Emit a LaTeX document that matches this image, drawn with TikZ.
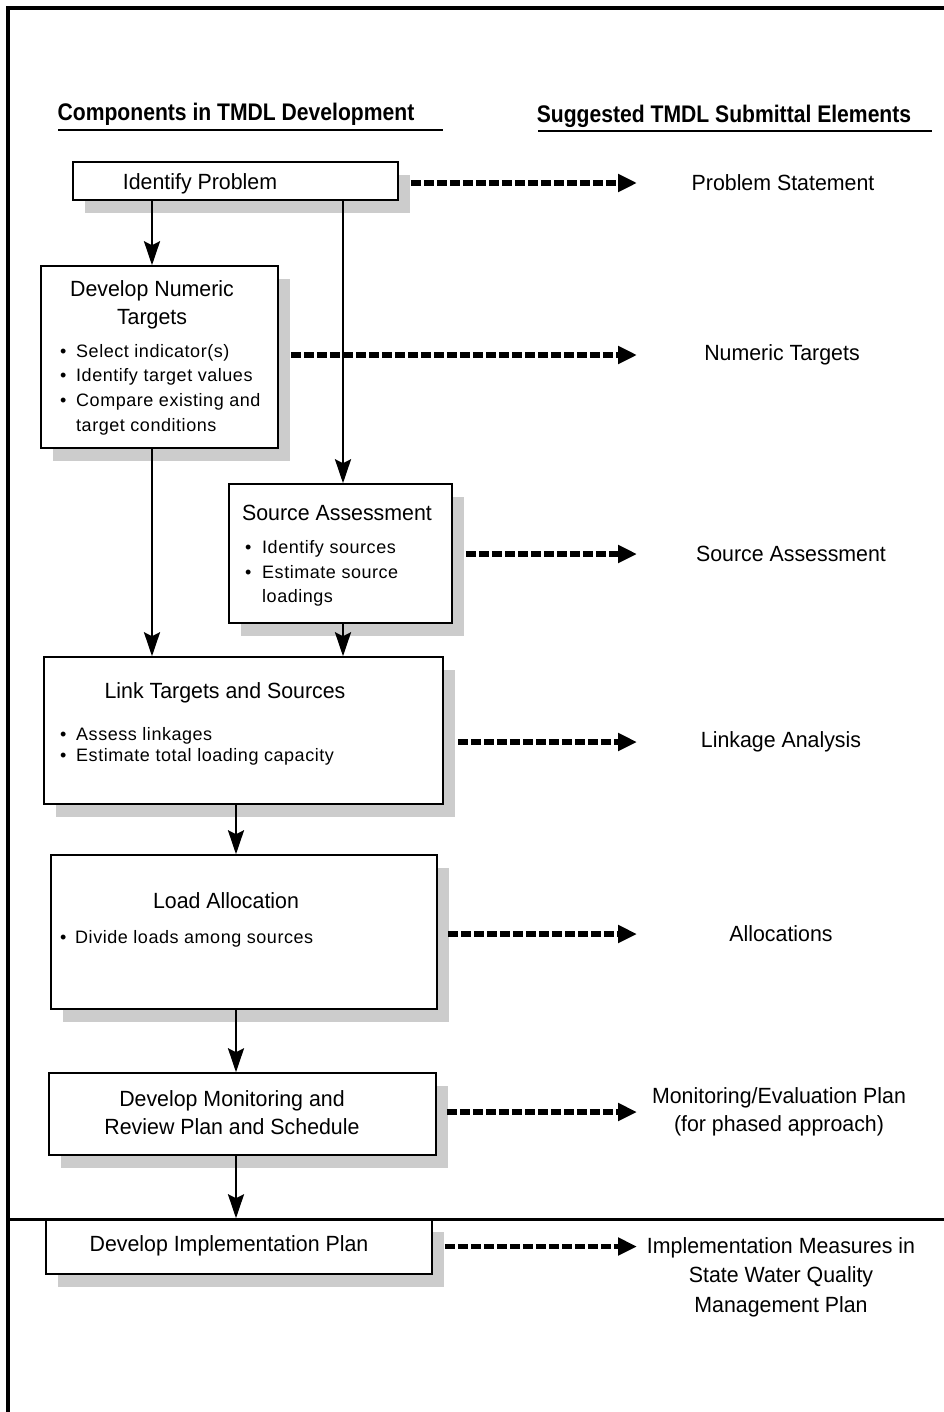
\documentclass[tikz,border=0pt]{standalone}
\usepackage{fontspec}
\setmainfont{Liberation Sans}
\newfontfamily\boxfont[FakeStretch=0.97]{Liberation Sans}
\newfontfamily\headfont[FakeStretch=0.88]{Liberation Sans}
\newfontfamily\itemfont[LetterSpace=3]{Liberation Sans}
\usetikzlibrary{arrows.meta,shadows}
\tikzset{
  box/.style={draw,line width=1.5pt,fill=white,inner sep=0,
    drop shadow={shadow xshift=12pt,shadow yshift=-13pt,fill=black!20,opacity=1}},
  ttl/.style={font=\boxfont\fontsize{22}{28}\selectfont,align=center,inner sep=0},
  head/.style={font=\headfont\bfseries\fontsize{24}{28}\selectfont,inner sep=0},
  itm/.style={font=\itemfont\fontsize{18}{22}\selectfont,anchor=base west,inner sep=0},
  rule/.style={line width=2.5pt},
  flow/.style={line width=2.5pt,-{Stealth[length=24pt,width=16pt,inset=4pt]}},
  feed/.style={line width=5.5pt,dash pattern=on 10pt off 3pt,-{Triangle[length=19pt,width=17pt]}},
}
\begin{document}
\begin{tikzpicture}[x=1pt,y=-1pt]
  \fill[white] (0,0) rectangle (944,1412);
  \useasboundingbox (0,0) rectangle (944,1412);
  % frame
  \draw[line width=4pt] (960,8) -- (8,8) -- (8,1420);
  % headings
  \node[head] (lhead) at (236,114) {Components in TMDL Development};
  \node[head] (rhead) at (724,116) {Suggested TMDL Submittal Elements};
  \draw[rule] (58,130) -- (443,130);
  \draw[rule] (538,131) -- (932,131);
  % boxes
  \node[box,minimum width=325,minimum height=38] (idprob) at (235.5,181) {};
  \node[box,minimum width=237,minimum height=182] (numtgt) at (159.5,357) {};
  \node[box,minimum width=223,minimum height=139] (srcass) at (340.5,553.5) {};
  \node[box,minimum width=399,minimum height=147] (link) at (243.5,730.5) {};
  \node[box,minimum width=386,minimum height=154] (loadalloc) at (244,932) {};
  \node[box,minimum width=387,minimum height=82] (monitor) at (242.5,1114) {};
  \node[box,minimum width=386,minimum height=55] (implan) at (239,1246.5) {};
  \draw[line width=3pt] (8,1219) -- (960,1219);
  % box texts
  \node[ttl] (idprobt) at (200,184) {Identify Problem};
  \node[ttl] (numtgtt) at (152,305) {Develop Numeric\\Targets};
  \node[ttl] (srcasst) at (337,513) {Source Assessment};
  \node[ttl] (linkt) at (225,693) {Link Targets and Sources};
  \node[ttl] (loadt) at (226,901) {Load Allocation};
  \node[ttl] (monitort) at (232,1113) {Develop Monitoring and\\Review Plan and Schedule};
  \node[ttl] (implant) at (229,1246) {Develop Implementation Plan};
  \foreach \y/\t [count=\i] in {357/Select indicator(s),381/Identify target values,406/Compare existing and} {
    \node[itm] (nb\i) at (60,\y) {\textbullet};
    \node[itm] (nt\i) at (76,\y) {\t};
  }
  \node[itm] (nt4) at (76,431) {target conditions};
  \foreach \y/\t [count=\i] in {553/Identify sources,578/Estimate source} {
    \node[itm] (sb\i) at (245,\y) {\textbullet};
    \node[itm] (st\i) at (262,\y) {\t};
  }
  \node[itm] (st3) at (262,602) {loadings};
  \foreach \y/\t [count=\i] in {740/Assess linkages,761/Estimate total loading capacity} {
    \node[itm] (lb\i) at (60,\y) {\textbullet};
    \node[itm] (lt\i) at (76,\y) {\t};
  }
  \node[itm] (ab1) at (60,943) {\textbullet};
  \node[itm] (at1) at (75,943) {Divide loads among sources};
  % submittal elements
  \node[ttl] (stmt) at (783,183) {Problem Statement};
  \node[ttl] (numout) at (782,355) {Numeric Targets};
  \node[ttl] (srcout) at (791,554) {Source Assessment};
  \node[ttl] (linkout) at (781,742) {Linkage Analysis};
  \node[ttl] (allocout) at (781,934) {Allocations};
  \node[ttl] (monout) at (779,1112) {Monitoring/Evaluation Plan\\(for phased approach)};
  \node[ttl,font=\boxfont\fontsize{22}{29.5}\selectfont] (impout) at (781,1277)
    {Implementation Measures in\\State Water Quality\\Management Plan};
  % flow
  \coordinate (laneA) at (152,0);
  \coordinate (laneB) at (343,0);
  \coordinate (laneC) at (236,0);
  \coordinate (tipend) at (637,0);
  \draw[flow] (idprob.south -| laneA) -- (numtgt.north -| laneA);
  \draw[flow] (idprob.south -| laneB) -- (srcass.north -| laneB);
  \draw[flow] (numtgt.south -| laneA) -- (link.north -| laneA);
  \draw[flow] (srcass.south -| laneB) -- (link.north -| laneB);
  \draw[flow] (link.south -| laneC) -- (loadalloc.north -| laneC);
  \draw[flow] (loadalloc.south -| laneC) -- (monitor.north -| laneC);
  \draw[flow] (monitor.south -| laneC) -- (implan.north -| laneC);
  % submittal arrows
  \draw[feed] (stmt -| idprob.east) ++(12,0) -- (stmt -| tipend);
  \draw[feed] (numout -| numtgt.east) ++(12,0) -- (numout -| tipend);
  \draw[feed] (srcout -| srcass.east) ++(13,0) -- (srcout -| tipend);
  \draw[feed] (linkout -| link.east) ++(14,0) -- (linkout -| tipend);
  \draw[feed] (allocout -| loadalloc.east) ++(10,0) -- (allocout -| tipend);
  \draw[feed] (monout -| monitor.east) ++(10,0) -- (monout -| tipend);
  \draw[feed] (implan.east) ++(12,0) -- (implan -| tipend);
\end{tikzpicture}
\end{document}
